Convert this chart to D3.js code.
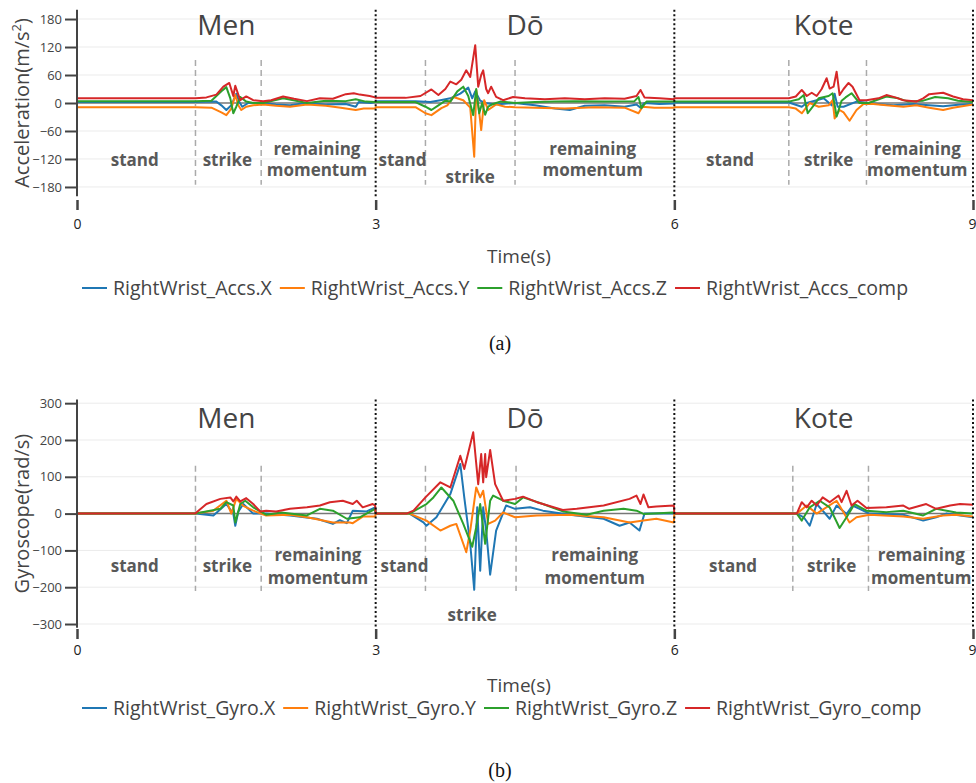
<!DOCTYPE html>
<html>
<head>
<meta charset="utf-8">
<script src="https://cdn.jsdelivr.net/npm/d3@7"></script>
<style>
  body { margin: 0; background: #fff; }
  svg { display: block; font-family: "Open Sans", "DejaVu Sans", sans-serif; }
</style>
</head>
<body>
<svg id="chart" width="976" height="783"></svg>
<script>
// ---- data (time in s, value) ----
const timeTicks = [0, 3, 6, 9];
const accTicks = [-180, -120, -60, 0, 60, 120, 180];
const gyroTicks = [-300, -200, -100, 0, 100, 200, 300];
const motions = ["Men", "Dō", "Kote"];
const colors = ["#1f77b4", "#ff7f0e", "#2ca02c", "#d62728"];
const accNames = ["RightWrist_Accs.X", "RightWrist_Accs.Y", "RightWrist_Accs.Z", "RightWrist_Accs_comp"];
const gyroNames = ["RightWrist_Gyro.X", "RightWrist_Gyro.Y", "RightWrist_Gyro.Z", "RightWrist_Gyro_comp"];

// phase boundaries (dashed lines)
const accPhases = [1.19, 1.85, 3.50, 4.40, 7.15, 7.93];
const gyroPhases = [1.19, 1.85, 3.50, 4.41, 7.19, 7.95];

// accelerometer
const accX = [[0,2],[1.19,2],[1.40,3],[1.45,-5],[1.50,-15],[1.55,-5],[1.60,20],[1.63,2],[1.66,-8],[1.72,0],[1.87,0],[2.00,-3],[2.14,-5],[2.30,0],[2.50,-3],[2.70,-2],[2.80,-8],[2.83,2],[2.95,0],[2.995,2],
  [3.0,4],[3.4,4],[3.55,2],[3.65,6],[3.75,10],[3.85,20],[3.93,33],[3.97,10],[4.00,25],[4.05,5],[4.10,0],[4.20,-3],[4.40,0],[4.60,-5],[4.80,-12],[4.95,-15],[5.10,-6],[5.30,-5],[5.50,-8],[5.62,-3],[5.66,-10],[5.70,0],[5.85,-2],[5.995,-1],
  [6.0,1],[7.15,1],[7.28,-8],[7.33,0],[7.43,6],[7.50,10],[7.58,-5],[7.61,20],[7.64,-8],[7.70,-8],[7.83,3],[7.95,0],[8.10,-3],[8.20,-5],[8.40,-2],[8.56,-5],[8.70,-7],[8.85,-4],[9.0,-2]];
const accY = [[0,-9],[1.19,-9],[1.35,-10],[1.45,-20],[1.50,-26],[1.55,-12],[1.59,17],[1.62,-5],[1.65,-15],[1.70,-8],[1.77,-5],[1.87,-3],[2.00,-6],[2.14,-8],[2.31,-3],[2.50,-6],[2.65,-10],[2.80,-15],[2.88,-12],[2.995,-12],
  [3.0,-9],[3.4,-9],[3.5,-22],[3.56,-26],[3.66,-11],[3.72,-5],[3.78,13],[3.88,6],[3.95,-10],[3.99,-115],[4.01,28],[4.04,-20],[4.06,-58],[4.09,6],[4.13,-15],[4.21,-3],[4.30,-8],[4.40,-9],[4.60,-10],[4.90,-12],[5.20,-9],[5.50,-10],[5.64,-22],[5.68,-8],[5.80,-10],[5.995,-10],
  [6.0,-9],[7.15,-9],[7.22,-12],[7.28,-22],[7.36,0],[7.45,-8],[7.55,-5],[7.59,6],[7.61,-33],[7.66,-15],[7.70,-20],[7.76,-38],[7.83,-15],[7.90,-2],[8.00,-2],[8.13,-5],[8.30,-8],[8.43,-5],[8.56,-10],[8.70,-15],[8.80,-10],[9.0,-3]];
const accZ = [[0,4],[1.19,4],[1.35,5],[1.45,25],[1.50,34],[1.54,10],[1.57,-22],[1.60,-8],[1.64,13],[1.70,3],[1.77,0],[1.87,0],[2.07,10],[2.20,5],[2.31,0],[2.50,5],[2.70,4],[2.80,8],[2.90,3],[2.995,2],
  [3.0,2],[3.4,2],[3.5,-8],[3.56,-15],[3.63,-5],[3.70,5],[3.75,3],[3.82,25],[3.88,35],[3.93,15],[3.98,-26],[4.01,30],[4.04,-22],[4.07,0],[4.10,-25],[4.13,-8],[4.18,-2],[4.25,3],[4.40,0],[4.60,2],[4.80,3],[5.00,4],[5.30,3],[5.60,4],[5.64,13],[5.67,-11],[5.72,3],[5.995,3],
  [6.0,3],[7.15,3],[7.25,8],[7.30,17],[7.34,-22],[7.40,-5],[7.45,10],[7.55,15],[7.59,21],[7.63,-29],[7.68,5],[7.72,12],[7.78,21],[7.86,0],[7.95,0],[8.13,14],[8.25,10],[8.35,3],[8.50,5],[8.62,13],[8.75,10],[8.85,5],[9.0,2]];
const accComp = [[0,10],[1.19,10],[1.30,12],[1.40,18],[1.47,35],[1.53,43],[1.57,15],[1.59,37],[1.62,18],[1.64,6],[1.70,14],[1.77,6],[1.87,4],[1.95,6],[2.07,14],[2.18,9],[2.31,4],[2.44,10],[2.57,9],[2.70,19],[2.78,21],[2.84,18],[2.94,15],[2.995,12],
  [3.0,11],[3.3,11],[3.45,15],[3.56,29],[3.63,17],[3.70,30],[3.75,46],[3.81,40],[3.86,50],[3.91,70],[3.95,56],[4.00,124],[4.03,35],[4.06,60],[4.08,70],[4.11,30],[4.13,21],[4.16,35],[4.21,13],[4.28,6],[4.38,13],[4.50,10],[4.70,8],[4.90,10],[5.10,8],[5.30,10],[5.50,9],[5.62,15],[5.66,28],[5.70,12],[5.85,10],[5.995,8],
  [6.0,10],[7.15,10],[7.22,14],[7.28,28],[7.33,15],[7.38,22],[7.43,15],[7.48,30],[7.53,53],[7.56,31],[7.60,35],[7.63,67],[7.66,17],[7.70,30],[7.75,43],[7.79,35],[7.86,6],[7.93,6],[8.05,10],[8.13,17],[8.22,12],[8.30,6],[8.43,3],[8.50,10],[8.56,19],[8.70,22],[8.80,14],[8.90,8],[9.0,6]];

// gyroscope
const gyroX = [[0,0],[1.19,0],[1.37,-5],[1.50,26],[1.57,0],[1.59,-33],[1.62,5],[1.67,26],[1.77,0],[1.90,0],[2.14,-5],[2.41,-14],[2.57,-28],[2.64,-18],[2.71,-26],[2.77,8],[2.91,6],[2.995,17],
  [3.0,0],[3.34,0],[3.48,-24],[3.51,-33],[3.61,-10],[3.75,53],[3.85,135],[3.89,44],[3.95,-82],[3.99,-207],[4.02,17],[4.05,-155],[4.08,17],[4.11,-46],[4.15,-166],[4.21,-46],[4.31,22],[4.40,13],[4.55,17],[4.68,8],[4.95,-3],[5.29,-14],[5.45,-33],[5.55,-24],[5.65,-46],[5.70,0],[5.995,0],
  [6.0,0],[7.23,0],[7.30,-10],[7.36,-33],[7.43,26],[7.49,8],[7.56,-14],[7.63,22],[7.73,-1],[7.79,22],[7.96,0],[8.30,-3],[8.50,-19],[8.63,-10],[8.73,0],[9.0,-10]];
const gyroY = [[0,0],[1.19,0],[1.37,8],[1.50,35],[1.55,0],[1.60,40],[1.67,21],[1.77,8],[1.90,-5],[2.14,-3],[2.31,-10],[2.57,-24],[2.74,-24],[2.77,-26],[2.87,-8],[2.995,-8],
  [3.0,0],[3.34,0],[3.51,-19],[3.65,-46],[3.75,-33],[3.81,-28],[3.91,-105],[3.95,-46],[4.01,71],[4.05,44],[4.08,62],[4.13,-28],[4.20,-19],[4.28,3],[4.40,-10],[4.62,-5],[4.95,-3],[5.29,-10],[5.55,-24],[5.69,-19],[5.82,-14],[5.995,-24],
  [6.0,0],[7.23,0],[7.33,22],[7.43,0],[7.63,35],[7.76,-24],[7.83,-10],[7.96,-3],[8.30,-8],[8.50,-14],[8.70,-5],[8.83,-3],[9.0,-8]];
const gyroZ = [[0,0],[1.19,0],[1.44,13],[1.50,31],[1.57,22],[1.59,-24],[1.64,26],[1.69,35],[1.77,17],[1.90,-3],[2.05,3],[2.31,-5],[2.44,13],[2.57,8],[2.71,-14],[2.84,-10],[2.995,13],
  [3.0,0],[3.34,0],[3.51,26],[3.58,44],[3.66,71],[3.78,35],[3.88,-28],[3.97,-90],[4.01,-37],[4.05,26],[4.10,-82],[4.15,35],[4.18,49],[4.28,35],[4.40,26],[4.48,44],[4.68,26],[4.88,6],[5.12,-3],[5.29,8],[5.49,13],[5.62,8],[5.69,-1],[5.995,3],
  [6.0,0],[7.23,0],[7.28,-19],[7.36,17],[7.46,35],[7.56,17],[7.66,-39],[7.73,-10],[7.81,26],[7.93,8],[8.13,4],[8.30,8],[8.50,-5],[8.63,13],[8.83,3],[9.0,0]];
const gyroComp = [[0,0],[1.19,1],[1.30,26],[1.44,40],[1.54,44],[1.57,33],[1.60,46],[1.64,33],[1.70,42],[1.77,26],[1.84,6],[1.90,8],[2.00,6],[2.14,13],[2.31,17],[2.44,22],[2.54,31],[2.67,35],[2.77,26],[2.81,35],[2.87,17],[2.97,26],[2.995,22],
  [3.0,0],[3.31,0],[3.38,8],[3.50,44],[3.65,85],[3.75,71],[3.85,157],[3.89,121],[3.98,221],[4.03,80],[4.06,162],[4.08,85],[4.10,162],[4.11,99],[4.15,173],[4.20,80],[4.28,35],[4.40,40],[4.48,46],[4.62,31],[4.88,10],[5.02,13],[5.29,22],[5.55,40],[5.62,49],[5.66,26],[5.69,52],[5.74,17],[5.82,19],[5.995,22],
  [6.0,0],[7.23,0],[7.28,31],[7.33,17],[7.38,35],[7.43,22],[7.49,44],[7.56,31],[7.65,49],[7.68,31],[7.73,62],[7.78,22],[7.84,35],[7.93,15],[8.13,17],[8.30,22],[8.36,13],[8.53,26],[8.63,13],[8.77,22],[8.87,26],[9.0,24]];

// ---- drawing ----
const svg = d3.select("#chart");
const x = d3.scaleLinear().domain([0, 9]).range([77, 973]);

function drawPanel(p) {
  const y = d3.scaleLinear().domain(p.domain).range([p.bottom, p.top]);
  const g = svg.append("g");

  g.append("clipPath").attr("id", "clip" + p.id)
    .append("rect").attr("x", x(0)).attr("y", p.top)
    .attr("width", x(9) - x(0)).attr("height", p.bottom - p.top);

  // grid
  g.selectAll(".grid").data(p.ticks.filter(d => d !== 0)).enter().append("line")
    .attr("x1", x(0)).attr("x2", x(9))
    .attr("y1", d => y(d)).attr("y2", d => y(d))
    .attr("stroke", "#ebebeb").attr("stroke-width", 1);

  // zero line
  g.append("line").attr("x1", x(0)).attr("x2", x(9))
    .attr("y1", y(0)).attr("y2", y(0))
    .attr("stroke", "#777").attr("stroke-width", 1.5);

  // phase boundaries
  g.selectAll(".phase").data(p.phases).enter().append("line")
    .attr("x1", d => x(d)).attr("x2", d => x(d))
    .attr("y1", y(p.phaseSpan[1])).attr("y2", y(p.phaseSpan[0]))
    .attr("stroke", "#aaa").attr("stroke-width", 1.5)
    .attr("stroke-dasharray", "6,4");

  // series
  const line = d3.line().x(d => x(d[0])).y(d => y(d[1]));
  g.append("g").attr("clip-path", "url(#clip" + p.id + ")")
    .selectAll("path").data(p.series).enter().append("path")
    .attr("d", d => line(d))
    .attr("fill", "none")
    .attr("stroke", (d, i) => colors[i])
    .attr("stroke-width", 2)
    .attr("stroke-linejoin", "round");

  // motion separators
  g.selectAll(".sep").data([3, 6, 9]).enter().append("line")
    .attr("x1", d => x(d)).attr("x2", d => x(d))
    .attr("y1", p.top).attr("y2", p.bottom)
    .attr("stroke", "#111").attr("stroke-width", 2)
    .attr("stroke-dasharray", "2,2.5");

  // motion titles
  g.selectAll(".title").data(motions).enter().append("text")
    .attr("x", (d, i) => x(1.5 + 3 * i)).attr("y", p.titleY)
    .attr("text-anchor", "middle")
    .style("font-size", "28px").attr("fill", "#444")
    .text(d => d);

  // phase labels
  p.labels.forEach(l => {
    g.append("text")
      .attr("x", x(l[0])).attr("y", y(l[1]))
      .attr("text-anchor", "middle")
      .style("font-size", "17px").style("font-weight", "bold")
      .attr("fill", "#595959")
      .text(l[2]);
  });

  // y axis
  const ya = g.append("g").attr("transform", "translate(77,0)")
    .call(d3.axisLeft(y).tickValues(p.ticks).tickSize(12).tickSizeOuter(0).tickPadding(3));
  ya.select(".domain").attr("stroke", "#444").attr("stroke-width", 2)
    .attr("d", "M0," + p.top + "V" + p.bottom);
  ya.selectAll(".tick line").attr("stroke", "#444").attr("stroke-width", 2).attr("x1", -1);
  ya.selectAll(".tick text").attr("fill", "#444").style("font-size", "13px")
    .style("font-family", "'Open Sans', sans-serif");

  // x axis ticks
  const xa = g.append("g").attr("transform", "translate(0," + p.xTickTop + ")")
    .call(d3.axisBottom(x).tickValues(timeTicks).tickSize(10).tickPadding(p.xPad));
  xa.select(".domain").remove();
  xa.selectAll(".tick line").attr("stroke", "#444").attr("stroke-width", 2.5);
  xa.selectAll(".tick text").attr("fill", "#222").style("font-size", "14px")
    .style("font-family", "'Open Sans', sans-serif")
    .attr("text-anchor", d => d === 9 ? "end" : "middle")
    .attr("dx", d => d === 9 ? 3 : 0);

  // axis titles
  const yt = g.append("text")
    .attr("transform", "translate(29," + ((p.top + p.bottom) / 2) + ") rotate(-90)")
    .attr("text-anchor", "middle")
    .style("font-size", "20px").attr("fill", "#444");
  p.yTitle(yt);

  g.append("text").attr("x", 519).attr("y", p.timeY)
    .attr("text-anchor", "middle")
    .style("font-size", "19px").attr("fill", "#444")
    .text("Time(s)");

  // legend
  let lx = 82;
  p.names.forEach((n, i) => {
    g.append("line").attr("x1", lx).attr("x2", lx + 25)
      .attr("y1", p.legendY).attr("y2", p.legendY)
      .attr("stroke", colors[i]).attr("stroke-width", 2);
    const t = g.append("text").attr("x", lx + 31).attr("y", p.legendY + 7)
      .style("font-size", "19.5px").attr("fill", "#444")
      .text(n);
    lx += 31 + t.node().getComputedTextLength() + 8;
  });

  // sub-figure label
  g.append("text").attr("x", 500).attr("y", p.capY)
    .attr("text-anchor", "middle")
    .style("font-family", "'Liberation Serif', 'Times New Roman', serif")
    .style("font-size", "20px").attr("fill", "#111")
    .text(p.cap);
}

drawPanel({
  id: "a", top: 9.7, bottom: 196.3, domain: [-200, 200], ticks: accTicks,
  series: [accX, accY, accZ, accComp], names: accNames,
  phases: accPhases, phaseSpan: [-175, 92],
  titleY: 35, xTickTop: 200, xPad: 9, timeY: 263, legendY: 288, capY: 350, cap: "(a)",
  labels: [[0.58, -135, "stand"], [1.51, -135, "strike"], [2.41, -111, "remaining"], [2.41, -156, "momentum"],
           [3.27, -135, "stand"], [3.95, -171, "strike"], [5.18, -111, "remaining"], [5.18, -156, "momentum"],
           [6.56, -135, "stand"], [7.55, -135, "strike"], [8.44, -111, "remaining"], [8.44, -156, "momentum"]],
  yTitle: t => {
    t.append("tspan").text("Acceleration(m/s");
    t.append("tspan").attr("dy", -8).style("font-size", "13px").text("2");
    t.append("tspan").attr("dy", 8).text(")");
  }
});

drawPanel({
  id: "b", top: 399.5, bottom: 627.7, domain: [-310, 310], ticks: gyroTicks,
  series: [gyroX, gyroY, gyroZ, gyroComp], names: gyroNames,
  phases: gyroPhases, phaseSpan: [-210, 130],
  titleY: 428, xTickTop: 629, xPad: 6, timeY: 692, legendY: 708, capY: 777, cap: "(b)",
  labels: [[0.58, -160, "stand"], [1.51, -160, "strike"], [2.42, -128, "remaining"], [2.42, -190, "momentum"],
           [3.29, -160, "stand"], [3.97, -293, "strike"], [5.20, -128, "remaining"], [5.20, -190, "momentum"],
           [6.59, -160, "stand"], [7.58, -160, "strike"], [8.48, -128, "remaining"], [8.48, -190, "momentum"]],
  yTitle: t => t.text("Gyroscope(rad/s)")
});
</script>
</body>
</html>
